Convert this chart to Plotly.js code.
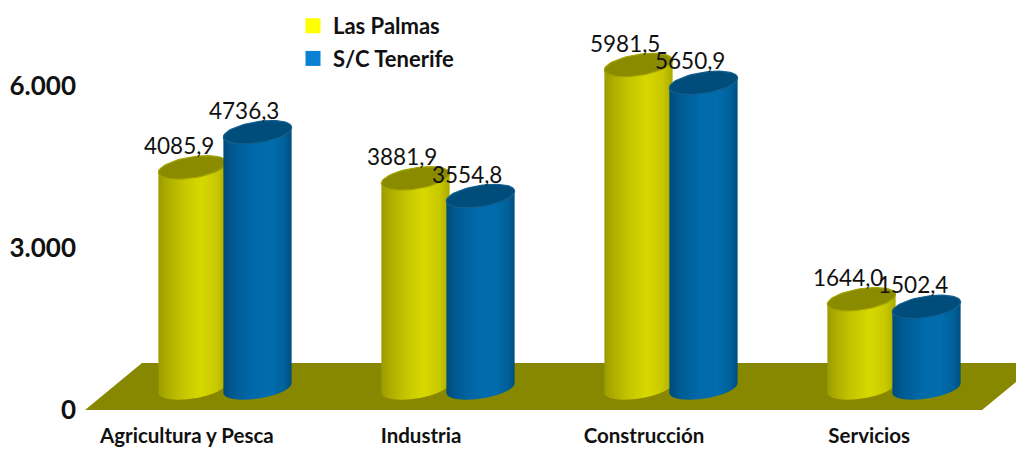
<!DOCTYPE html>
<html>
<head>
<meta charset="utf-8">
<script src="https://cdn.plot.ly/plotly-3.0.1.min.js"></script>
<style>html,body{margin:0;padding:0;background:#fff;overflow:hidden}#chart{width:1016px;height:450px}</style>
</head>
<body>
<div id="chart"></div>
<script>
// ---- data ----
const categories = ['Agricultura y Pesca', 'Industria', 'Construcción', 'Servicios'];
const lasPalmas  = [4085.9, 3881.9, 5981.5, 1644.0];
const scTenerife = [4736.3, 3554.8, 5650.9, 1502.4];
const yTickVals  = [0, 3000, 6000];
const yTickText  = ['0', '3.000', '6.000'];
const catTickPos = [-0.05, 1, 2, 3.01];

// ---- geometry of the pseudo-3D scene ----
const W = 1016, H = 450, mL = 78, mB = 40;
const plotH = H - mB;
const pxPerUnitY = 0.054;          // px per data unit
const pxPerCat = 223;              // px per category
const frontCat0 = 198, backCat0 = 225, backLift = 22; // px
const halfGap = 32.5, a = 34.5, b = 10.5, tilt = 9 * Math.PI / 180;

const frontRange = [(mL - frontCat0) / pxPerCat, (W - frontCat0) / pxPerCat];
const backRange  = [(mL - backCat0) / pxPerCat, (W - backCat0) / pxPerCat];
const yMax = plotH / pxPerUnitY, yLift = backLift / pxPerUnitY;
const backY = [-yLift, yMax - yLift];

function ell(cx, cy, t) {
  const dx = a * Math.cos(t) * Math.cos(tilt) - b * Math.sin(t) * Math.sin(tilt);
  const dy = a * Math.cos(t) * Math.sin(tilt) + b * Math.sin(t) * Math.cos(tilt);
  return [cx + dx / pxPerCat, cy + dy / pxPerUnitY];
}
const t0 = Math.atan2(-b * Math.sin(tilt), a * Math.cos(tilt)); // right-most angle

function cylinderTraces(values, side, xa, ya, name, scale, capColor, rimColor, barColor) {
  const out = [];
  const centres = values.map((v, i) => i + side * halfGap / pxPerCat);
  out.push({type: 'bar', x: centres, y: values, width: 56 / pxPerCat, xaxis: xa, yaxis: ya,
    marker: {color: barColor}, name: name, showlegend: false,
    hovertemplate: name + ': %{y}<extra></extra>'});
  values.forEach((v, i) => {
    const cx = centres[i], xs = [], ys = [];
    let p = ell(cx, v, t0 + Math.PI); xs.push(p[0]); ys.push(p[1]);
    p = ell(cx, v, t0); xs.push(p[0]); ys.push(p[1]);
    for (let k = 0; k <= 40; k++) {
      p = ell(cx, 0, t0 - Math.PI * k / 40);
      xs.push(p[0]); ys.push(p[1]);
    }
    xs.push(xs[0]); ys.push(ys[0]);
    out.push({type: 'scatter', mode: 'none', x: xs, y: ys, xaxis: xa, yaxis: ya, fill: 'toself',
      fillgradient: {type: 'horizontal', start: cx - a / pxPerCat, stop: cx + a / pxPerCat, colorscale: scale},
      hoverinfo: 'skip', showlegend: false});
    const cxs = [], cys = [];
    for (let k = 0; k <= 60; k++) { p = ell(cx, v, 2 * Math.PI * k / 60); cxs.push(p[0]); cys.push(p[1]); }
    out.push({type: 'scatter', mode: 'lines', x: cxs, y: cys, xaxis: xa, yaxis: ya, fill: 'toself',
      fillcolor: capColor, line: {color: rimColor, width: 1.2}, hoverinfo: 'skip', showlegend: false});
  });
  return out;
}

const yellowScale = [[0, '#9a9a00'], [0.12, '#acac00'], [0.35, '#c4c400'], [0.62, '#d8d800'], [0.85, '#c8c800'], [1, '#a8a800']];
const blueScale   = [[0, '#004a78'], [0.15, '#005a92'], [0.45, '#006aab'], [0.7, '#006dae'], [0.9, '#005f98'], [1, '#004c7c']];

const traces = [
  {type: 'scatter', mode: 'markers', x: [null], y: [null], name: 'Las Palmas', legendgroup: 'a',
   marker: {symbol: 'square', size: 15, color: '#ffff00'}},
  {type: 'scatter', mode: 'markers', x: [null], y: [null], name: 'S/C Tenerife', legendgroup: 'b',
   marker: {symbol: 'square', size: 15, color: '#0a80d2'}},
  ...cylinderTraces(lasPalmas, -1, 'x2', 'y2', 'Las Palmas', yellowScale, '#8b8b00', '#a3a300', '#c4c400'),
  ...cylinderTraces(scTenerife, 1, 'x3', 'y3', 'S/C Tenerife', blueScale, '#004c7a', '#11608f', '#006aab')
];

const fmt = v => v.toFixed(1).replace('.', ',');
const labelFont = {family: 'Lato, "Noto Sans", sans-serif', size: 22.5, color: '#111'};
const annotations = [];
[[lasPalmas, -1, 'x2', 'y2'], [scTenerife, 1, 'x3', 'y3']].forEach(([vals, side, xr, yr]) => {
  vals.forEach((v, i) => annotations.push({
    x: i + side * halfGap / pxPerCat, y: v, xref: xr, yref: yr, text: fmt(v),
    showarrow: false, xshift: -14, yshift: 22, yanchor: 'middle', xanchor: 'center', font: labelFont
  }));
});

// floor plate, in page pixels
const px = x => (x - mL) / (W - mL), py = y => (plotH - y) / plotH;
const floor = [[85, 410], [142, 363], [1016, 363], [1016, 382], [982, 410]];
const floorPath = 'M ' + floor.map(q => px(q[0]) + ' ' + py(q[1])).join(' L ') + ' Z';

const hidden = {visible: false, fixedrange: true};
const boldFont = {family: 'Lato, "Noto Sans", sans-serif', size: 22, color: '#111', weight: 700};

const layout = {
  width: W, height: H, paper_bgcolor: '#fff', plot_bgcolor: 'rgba(0,0,0,0)',
  margin: {l: mL, r: 0, t: 0, b: mB, pad: 0},
  barmode: 'overlay', hovermode: 'closest',
  font: {family: 'Lato, "Noto Sans", sans-serif'},
  xaxis: {type: 'linear', range: frontRange, tickmode: 'array', tickvals: catTickPos, ticktext: categories,
    showgrid: false, zeroline: false, showline: false, ticks: '', tickangle: 0, fixedrange: true,
    tickfont: Object.assign({}, boldFont, {size: 20.5}), ticklabelstandoff: 11},
  yaxis: {range: [0, yMax], tickmode: 'array', tickvals: yTickVals, ticktext: yTickText,
    showgrid: false, zeroline: false, showline: false, ticks: '', fixedrange: true,
    tickfont: Object.assign({}, boldFont, {size: 26}), ticklabelstandoff: 1},
  xaxis2: Object.assign({range: backRange, overlaying: 'x', anchor: 'y2'}, hidden),
  yaxis2: Object.assign({range: backY, overlaying: 'y', anchor: 'x2'}, hidden),
  xaxis3: Object.assign({range: backRange, overlaying: 'x', anchor: 'y3'}, hidden),
  yaxis3: Object.assign({range: backY, overlaying: 'y', anchor: 'x3'}, hidden),
  shapes: [{type: 'path', xref: 'paper', yref: 'paper', path: floorPath, fillcolor: '#878700', line: {width: 0}, layer: 'below'}],
  annotations: annotations,
  legend: {x: (293 - mL) / (W - mL), y: 1 - 5 / plotH, xanchor: 'left', yanchor: 'top',
    traceorder: 'grouped', tracegroupgap: 1, bgcolor: 'rgba(0,0,0,0)', itemclick: false, itemdoubleclick: false,
    font: boldFont}
};
Plotly.newPlot('chart', traces, layout, {displayModeBar: false, responsive: false});
</script>
</body>
</html>
